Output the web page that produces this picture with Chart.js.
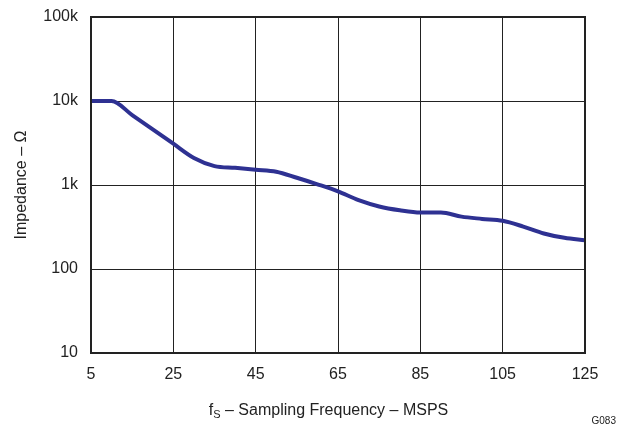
<!DOCTYPE html>
<html>
<head>
<meta charset="utf-8">
<script src="https://cdn.jsdelivr.net/npm/chart.js@4/dist/chart.umd.min.js"></script>
<style>
  body { margin: 0; background: #fff; }
  #wrap { position: relative; width: 621px; height: 430px; font-family: "Liberation Sans", Arial, sans-serif; }
  #xtitle { position: absolute; left: 0; width: 621px; top: 401px; text-align: center; font-size: 16px; color: #222; padding-left: 36px; box-sizing: border-box; }
  #xtitle sub { font-size: 11px; vertical-align: -3px; }
  #code { position: absolute; right: 5px; top: 415px; font-size: 10px; color: #222; }
</style>
</head>
<body>
<div id="wrap">
  <canvas id="chart" width="621" height="430"></canvas>
  <div id="xtitle">f<sub>S</sub> – Sampling Frequency – MSPS</div>
  <div id="code">G083</div>
</div>
<script>
// sampling frequency (MSPS)
var freq = [5, 10, 15, 20, 25, 30, 35, 40, 45, 50, 55, 60, 65, 70, 75, 80, 85, 90, 95, 100, 105, 110, 115, 120, 125];
// impedance (ohm)
var impedance = [10000, 10000, 6800, 4600, 3100, 2100, 1680, 1600, 1520, 1440, 1220, 1020, 840, 660, 555, 500, 470, 470, 420, 395, 375, 320, 265, 235, 220];
var yTicks = [10, 100, 1000, 10000, 100000];
var yLabels = { 10: "10", 100: "100", 1000: "1k", 10000: "10k", 100000: "100k" };

var pts = freq.map(function(f, i){ return { x: f, y: impedance[i] }; });

var frame = {
  id: "frame",
  afterDraw: function(chart){
    var a = chart.chartArea, c = chart.ctx;
    c.save();
    c.strokeStyle = "#222";
    c.lineWidth = 2;
    c.strokeRect(a.left, a.top, a.right - a.left, a.bottom - a.top);
    c.restore();
  }
};

var ctx = document.getElementById("chart").getContext("2d");
var chart = new Chart(ctx, {
  type: "line",
  data: {
    datasets: [{
      data: pts,
      borderColor: "#2e3192",
      borderWidth: 4,
      pointRadius: 0,
      cubicInterpolationMode: "monotone",
      fill: false
    }]
  },
  options: {
    responsive: false,
    animation: false,
    layout: { padding: { left: 0, right: 36, top: 17, bottom: 0 } },
    plugins: { legend: { display: false }, tooltip: { enabled: false } },
    scales: {
      x: {
        type: "linear",
        min: 5,
        max: 125,
        afterFit: function(s){ s.height = 77; s.paddingLeft = 0; s.paddingRight = 0; },
        ticks: { stepSize: 20, color: "#222", font: { family: "Liberation Sans", size: 16 }, padding: 12 },
        grid: { color: "#222", lineWidth: 1, drawTicks: false },
        border: { display: false }
      },
      y: {
        type: "logarithmic",
        min: 10,
        max: 100000,
        afterFit: function(s){ s.width = 91; s.paddingTop = 0; s.paddingBottom = 0; },
        afterBuildTicks: function(s){ s.ticks = yTicks.map(function(v){ return { value: v }; }); },
        ticks: {
          color: "#222",
          font: { family: "Liberation Sans", size: 16 },
          padding: 13,
          callback: function(v){ return yLabels[v]; }
        },
        grid: { color: "#222", lineWidth: 1, drawTicks: false },
        border: { display: false },
        title: { display: true, text: "Impedance – Ω", color: "#222", font: { family: "Liberation Sans", size: 16 }, padding: { top: 12 } }
      }
    }
  },
  plugins: [frame]
});
</script>
</body>
</html>
